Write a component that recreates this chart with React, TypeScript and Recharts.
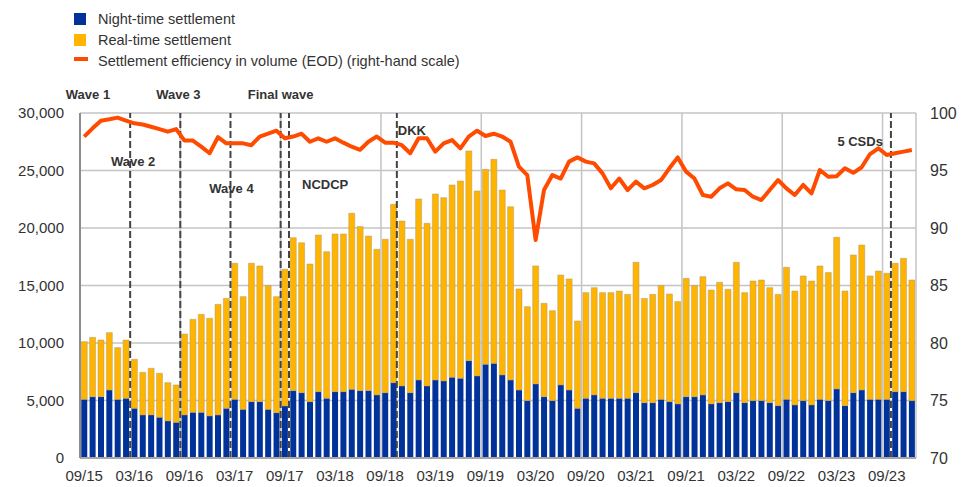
import {
  Bar,
  CartesianGrid,
  ComposedChart,
  Line,
  ReferenceLine,
  XAxis,
  YAxis,
} from "recharts";

// monthly observations, Sep 2015 .. Dec 2023
const monthCount = 100;
const months = Array.from({ length: monthCount }, (_, i) => {
  const m = ((8 + i) % 12) + 1;
  const y = 15 + Math.floor((8 + i) / 12);
  return `${String(m).padStart(2, "0")}/${y}`;
});

const tickLabels = [
  "09/15", "03/16", "09/16", "03/17", "09/17", "03/18", "09/18", "03/19", "09/19",
  "03/20", "09/20", "03/21", "09/21", "03/22", "09/22", "03/23", "09/23",
];

const nightTime = [
  5100, 5330, 5330, 5910, 5100, 5190, 4320, 3740, 3740, 3540, 3220, 3100,
  3740, 3970, 3970, 3650, 3740, 4320, 5100, 4230, 4900, 4900, 4230, 3940,
  4520, 5860, 5680, 4900, 5770, 5190, 5770, 5770, 5970, 5860, 5860, 5480,
  5680, 6550, 6260, 5680, 6780, 6260, 6780, 6700, 7020, 6930, 8460, 7130,
  8150, 8230, 7220, 6780, 5910, 4990, 6440, 5330, 4990, 6350, 5910, 4320,
  5190, 5480, 5190, 5190, 5190, 5190, 5680, 4810, 4810, 5100, 4900, 4700,
  5330, 5330, 5480, 4700, 4810, 4900, 5680, 4810, 4990, 4990, 4810, 4550,
  5100, 4610, 4990, 4610, 5100, 4990, 6000, 4550, 5680, 5910, 5100, 5100,
  5100, 5770, 5770, 4990,
];

const realTime = [
  5015, 5160, 4930, 4990, 4500, 5070, 4260, 3710, 4060, 3825, 3330, 3250,
  7040, 8090, 8520, 8500, 9620, 9560, 11830, 9800, 12030, 11800, 10760, 10090,
  11890, 13300, 13040, 11970, 13620, 12750, 13710, 13710, 15310, 14260, 13440, 12670,
  13340, 15510, 14350, 13340, 15740, 14150, 16180, 15940, 16720, 17160, 18240, 16090,
  16950, 17740, 16080, 15070, 8790, 8170, 10260, 8120, 7820, 9560, 9660, 7590,
  9190, 9330, 9190, 9190, 9330, 9040, 11340, 9070, 9420, 9890, 9360, 8900,
  10290, 9660, 10290, 9910, 10470, 9770, 11340, 9570, 10400, 10490, 10000, 9680,
  11480, 9910, 10840, 10780, 11600, 11130, 13190, 9970, 11970, 12610, 10730, 11160,
  10960, 11160, 11590, 10490,
];

const efficiency = [
  97.94, 98.67, 99.33, 99.45, 99.6, 99.33, 99.1, 99.0, 98.8, 98.6, 98.38, 98.6,
  97.6, 97.6, 97.07, 96.5, 97.9, 97.36, 97.36, 97.36, 97.2, 97.95, 98.2, 98.46,
  97.8, 97.95, 98.2, 97.5, 97.8, 97.5, 97.8, 97.42, 97.07, 96.8, 97.5, 97.95,
  97.42, 97.42, 97.2, 96.5, 97.8, 97.8, 96.64, 97.36, 97.65, 96.93, 97.95, 98.46,
  98.0, 98.2, 97.95, 97.5, 95.33, 94.6, 88.96, 93.3, 94.6, 94.3, 95.77, 96.14,
  95.77, 95.62, 94.75, 93.45, 94.3, 93.3, 94.03, 93.45, 93.74, 94.17, 95.19, 96.14,
  94.9, 94.3, 92.87, 92.72, 93.45, 93.88, 93.36, 93.3, 92.72, 92.43, 93.3, 94.17,
  93.45, 92.87, 93.74, 93.01, 95.04, 94.46, 94.5, 95.19, 94.8, 95.28, 96.43, 96.93,
  96.35, 96.5, 96.64, 96.78,
];

// migration events, placed in month-index units (0 = Sep 2015)
const eventNames = ["Wave 1", "Wave 2", "Wave 3", "Wave 4", "Final wave", "NCDCP", "DKK", "5 CSDs"];
const eventAt = [-0.5, 5.5, 11.5, 17.5, 23.5, 24.5, 37.4, 96.5];

const labelLayout: Record<string, { y: number; anchor: "start" | "middle" | "end"; dx: number }> = {
  "Wave 1": { y: 94, anchor: "middle", dx: 8 },
  "Wave 2": { y: 161, anchor: "middle", dx: 3 },
  "Wave 3": { y: 94, anchor: "middle", dx: -2 },
  "Wave 4": { y: 188, anchor: "middle", dx: 1 },
  "Final wave": { y: 94, anchor: "middle", dx: 0 },
  NCDCP: { y: 184, anchor: "start", dx: 13 },
  DKK: { y: 130, anchor: "start", dx: 1 },
  "5 CSDs": { y: 141, anchor: "end", dx: -8 },
};

const NIGHT = "#003299";
const REAL = "#FFB400";
const EFF = "#FF4B00";
const FONT = "'Liberation Sans', Arial, sans-serif";

const data = months.map((month, idx) => ({
  month,
  idx,
  night: nightTime[idx],
  real: realTime[idx],
  eff: efficiency[idx],
}));

// yearly separators sit between Aug and Sep
const yearLines = data.filter((d) => d.month.startsWith("09/") && d.idx > 0).map((d) => d.idx - 0.5);

function EventLabel({ viewBox, text }: any) {
  const l = labelLayout[text];
  if (!viewBox || !l) return null;
  return (
    <text
      x={viewBox.x + l.dx}
      y={l.y}
      textAnchor={l.anchor}
      dominantBaseline="central"
      fontFamily={FONT}
      fontSize={13}
      fontWeight="bold"
      fill="#333"
    >
      {text}
    </text>
  );
}

const legendItems = [
  { label: "Night-time settlement", color: NIGHT, kind: "box" },
  { label: "Real-time settlement", color: REAL, kind: "box" },
  { label: "Settlement efficiency in volume (EOD) (right-hand scale)", color: EFF, kind: "line" },
];

function LegendBlock() {
  return (
    <div style={{ position: "absolute", left: 74, top: 8, fontFamily: FONT, fontSize: 14.5, color: "#333" }}>
      {legendItems.map((it) => (
        <div key={it.label} style={{ display: "flex", alignItems: "center", height: 21 }}>
          <span
            style={{
              display: "inline-block",
              width: it.kind === "box" ? 12 : 14,
              height: it.kind === "box" ? 12 : 4,
              marginTop: it.kind === "box" ? 0 : -4,
              background: it.color,
              marginRight: it.kind === "box" ? 12 : 10,
            }}
          />
          <span>{it.label}</span>
        </div>
      ))}
    </div>
  );
}

export default function App() {
  const tickStyle = { fill: "#333", fontSize: 15, fontFamily: FONT };
  return (
    <div style={{ position: "absolute", left: 0, top: 0, width: 966, height: 487, background: "#fff" }}>
      <LegendBlock />
      <ComposedChart
        width={966}
        height={487}
        data={data}
        margin={{ top: 113, right: 0, bottom: 0, left: 0 }}
        barCategoryGap="15%"
      >
        <CartesianGrid xAxisId="cat" yAxisId="left" vertical={false} stroke="#c4c4c4" strokeWidth={1.5} />
        <XAxis
          xAxisId="cat"
          dataKey="month"
          ticks={tickLabels}
          interval={0}
          height={29}
          tickLine={false}
          tickSize={0}
          tickMargin={12}
          axisLine={{ stroke: "#a6a6a6", strokeWidth: 2 }}
          tick={tickStyle}
        />
        <XAxis xAxisId="pos" dataKey="idx" type="number" domain={[-0.5, monthCount - 0.5]} allowDataOverflow hide />
        <YAxis
          yAxisId="left"
          width={80}
          domain={[0, 30000]}
          ticks={[0, 5000, 10000, 15000, 20000, 25000, 30000]}
          tickFormatter={(v) => v.toLocaleString("en-US")}
          tickLine={false}
          tickSize={0}
          tickMargin={16}
          axisLine={{ stroke: "#8c8c8c", strokeWidth: 2 }}
          tick={tickStyle}
        />
        <YAxis
          yAxisId="right"
          orientation="right"
          width={50}
          domain={[70, 100]}
          ticks={[70, 75, 80, 85, 90, 95, 100]}
          tickLine={false}
          tickSize={0}
          tickMargin={14}
          axisLine={false}
          tick={{ ...tickStyle, fontSize: 16 }}
        />
        {yearLines.concat([monthCount - 0.5]).map((x) => (
          <ReferenceLine key={`g${x}`} xAxisId="pos" yAxisId="left" x={x} stroke="#c4c4c4" strokeWidth={1.5} />
        ))}
        <Bar xAxisId="cat" yAxisId="left" dataKey="night" stackId="s" fill={NIGHT} isAnimationActive={false} />
        <Bar
          xAxisId="cat"
          yAxisId="left"
          dataKey="real"
          stackId="s"
          fill={REAL}
          stroke="#b09a70"
          strokeWidth={0.5}
          isAnimationActive={false}
        />
        {eventNames.map((name, i) => (
          <ReferenceLine
            key={name}
            xAxisId="pos"
            yAxisId="left"
            x={eventAt[i]}
            stroke="#444"
            strokeWidth={2}
            strokeDasharray="7 3"
            label={<EventLabel text={name} />}
          />
        ))}
        <Line
          xAxisId="cat"
          yAxisId="right"
          dataKey="eff"
          type="linear"
          stroke={EFF}
          strokeWidth={4}
          strokeLinejoin="round"
          dot={false}
          activeDot={false}
          isAnimationActive={false}
        />
      </ComposedChart>
    </div>
  );
}
